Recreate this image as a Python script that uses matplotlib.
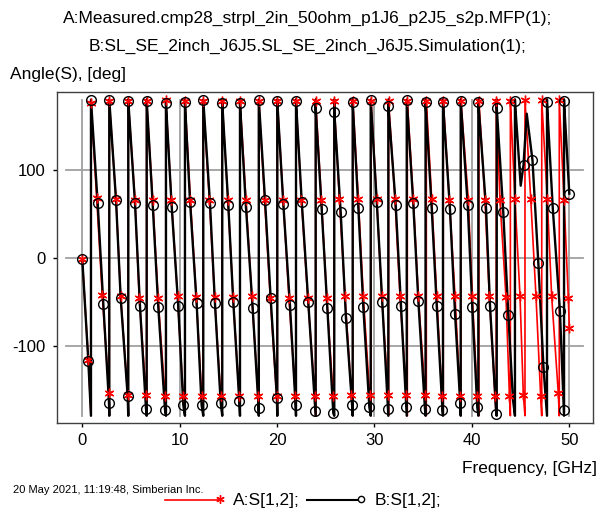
import numpy as np
import matplotlib.pyplot as plt

plt.rcParams['font.family'] = ['Liberation Sans', 'DejaVu Sans']
plt.rcParams['axes.unicode_minus'] = False

# ---- data ----
# measured (A, red): marker points, frequency in GHz, angle in deg
a_freq = [0.0, 0.62,
          0.89, 1.48, 2.05, 2.74, 2.77, 3.46, 3.94, 4.66, 4.72, 5.41, 5.85, 6.54,
          6.61, 7.23, 7.78, 8.49, 8.57, 9.15, 9.78, 10.35, 10.54, 11.10, 11.70, 12.25,
          12.40, 13.05, 13.58, 14.20, 14.35, 14.95, 15.48, 16.10, 16.19, 16.80, 17.40, 18.05,
          18.12, 18.72, 19.30, 19.95, 20.02, 20.62, 21.22, 21.88, 21.94, 22.50, 23.15, 23.88,
          23.96, 24.55, 25.10, 25.75, 25.85, 26.39, 26.97, 27.62, 27.77, 28.34, 28.85, 29.50,
          29.64, 30.23, 30.74, 31.40, 31.44, 32.10, 32.62, 33.28, 33.37, 33.98, 34.50, 35.20,
          35.32, 35.87, 36.39, 36.92, 37.06, 37.68, 38.27, 38.78, 38.87, 39.63, 40.04, 40.55,
          40.72, 41.34, 41.79, 42.37, 42.50, 42.88, 43.50, 43.85, 43.95, 44.42, 44.94, 45.28,
          45.45, 46.04, 46.58, 47.06, 47.17, 47.74, 48.19, 48.87, 48.97, 49.46, 49.90, 50.0]
a_deg = [-2, -116,
         176, 68, -43, -154, 178, 67, -44, -156, 178, 66, -46, -156,
         178, 66, -46, -158, 180, 66, -44, -158, 179, 66, -45, -157,
         179, 66, -45, -157, 179, 66, -45, -157, 179, 66, -44, -157,
         179, 66, -46, -157, 179, 66, -46, -157, 179, 66, -46, -157,
         179, 66, -46, -157, 179, 67, -44, -156, 179, 67, -44, -156,
         179, 67, -44, -156, 179, 67, -44, -156, 179, 67, -44, -156,
         179, 67, -44, -157, 179, 66, -44, -157, 179, 66, -44, -157,
         179, 66, -44, -157, 179, 66, -45, -157, 179, 67, -44, -156,
         180, 67, -44, -158, 180, 67, -44, -154, 180, 66, -46, -80]
a_wrap = [0.89, 2.77, 4.72, 6.61, 8.57, 10.54, 12.40, 14.35, 16.19, 18.12, 20.02, 21.94,
          23.96, 25.85, 27.77, 29.64, 31.44, 33.37, 35.32, 37.06, 38.87, 40.72, 42.50,
          43.95, 45.45, 47.17, 48.97]

# simulated (B, black): marker points
b_freq = [0.0, 0.62,
          0.89, 1.58, 2.16, 2.74, 2.77, 3.46, 3.94, 4.66, 4.72, 5.41, 5.92, 6.54,
          6.61, 7.23, 7.80, 8.49, 8.59, 9.18, 9.85, 10.37, 10.54, 11.06, 11.74, 12.25,
          12.42, 13.11, 13.62, 14.21, 14.37, 14.99, 15.50, 16.12, 16.19, 16.80, 17.49, 18.10,
          18.12, 18.76, 19.34, 19.98, 20.02, 20.64, 21.32, 21.90, 21.94, 22.53, 23.20, 23.92,
          23.96, 24.58, 25.15, 25.77, 25.87, 26.53, 27.07, 27.70, 27.76, 28.34, 28.85, 29.47,
          29.61, 30.23, 30.80, 31.38, 31.42, 32.18, 32.72, 33.25, 33.31, 33.98, 34.50, 35.18,
          35.24, 35.87, 36.39, 36.98, 37.03, 37.75, 38.27, 38.80, 38.85, 39.57, 40.04, 40.55,
          40.66, 41.45, 41.86, 42.50, 42.55, 43.22, 43.74, 44.42,
          45.30, 46.22, 46.82, 47.35, 47.71, 48.30, 49.04, 49.46, 49.46, 50.0]
b_deg = [-2, -118,
         180, 62, -53, -165, 180, 66, -46, -158, 179, 62, -55, -172,
         179, 60, -56, -173, 176, 58, -55, -168, 177, 64, -52, -168,
         180, 62, -52, -165, 176, 60, -50, -163, 176, 58, -57, -171,
         180, 66, -46, -160, 178, 61, -54, -168, 178, 64, -51, -175,
         170, 55, -57, -177, 166, 52, -69, -168, 177, 57, -56, -170,
         180, 64, -51, -172, 173, 60, -55, -170, 180, 62, -49, -172,
         177, 57, -55, -174, 177, 55, -64, -165, 179, 60, -56, -170,
         177, 57, -55, -178, 171, 52, -65, 178,
         106, 111, -6, -125, 177, 57, -61, -173, 178, 73]
b_wrap = [0.89, 2.77, 4.72, 6.61, 8.59, 10.54, 12.42, 14.37, 16.19, 18.12, 20.02, 21.94,
          23.96, 25.87, 27.76, 29.61, 31.42, 33.31, 35.24, 37.03, 38.85, 40.66, 42.55,
          44.42, 47.71, 49.46]
# extra bends of the simulated curve around 45 GHz (no marker there)
b_bend_freq = [44.22, 45.01, 45.63, 47.66]
b_bend_deg = [-162, 82, 164, -172]


def trace(freq, deg, wrap, bend_f=(), bend_d=()):
    pts = [(f, 2, d) for f, d in zip(freq, deg)]
    pts += [(f, 3, d) for f, d in zip(bend_f, bend_d)]
    for w in wrap:
        pts.append((w, 0, -180))
        pts.append((w, 1, 180))
    pts.sort()
    return [p[0] for p in pts], [p[2] for p in pts]


W, H = 607, 512
fig = plt.figure(figsize=(W / 100, H / 100), dpi=100)
L, R, T, B = 56.7, 592.7, 91.7, 423
ax = fig.add_axes([L / W, 1 - B / H, (R - L) / W, (B - T) / H])

x0, xs = 82.3, 9.74
y0, ys = 257.7, 0.878
ax.set_xlim((L - x0) / xs, (R - x0) / xs)
ax.set_ylim((y0 - B) / ys, (y0 - T) / ys)

gray = '#a0a0a0'
for v in [-100, 0, 100]:
    ax.plot([(66 - x0) / xs, (583 - x0) / xs], [v, v], color=gray, lw=1.3, zorder=1)
for v in range(0, 51, 10):
    ax.plot([v, v], [-180, 180], color=gray, lw=1.3, zorder=1)

fa, da = trace(a_freq, a_deg, a_wrap)
fb, db = trace(b_freq, b_deg, b_wrap, b_bend_freq, b_bend_deg)
ax.plot(fa, da, color='#ff0000', lw=1.2, zorder=2)
ax.plot(fb, db, color='black', lw=1.7, zorder=3)
ax.plot(a_freq, a_deg, ls='none', marker=(6, 2, 0), ms=7, mew=1, color='#ff0000', zorder=4)
ax.plot(b_freq, b_deg, ls='none', marker='o', ms=7, mew=1, mfc='none', mec='black', zorder=5)

ax.set_xticks(range(0, 51, 10))
ax.set_yticks([-100, 0, 100])
ax.tick_params(direction='out', length=3, width=1, labelsize=12, color='black')
ax.tick_params(axis='y', pad=5)
ax.tick_params(axis='x', pad=4)
for s in ax.spines.values():
    s.set_linewidth(1.0)
    s.set_color('#404040')

fig.text(0.507, 1 - 18 / H, 'A:Measured.cmp28_strpl_2in_50ohm_p1J6_p2J5_s2p.MFP(1);',
         ha='center', va='center', fontsize=12.5)
fig.text(0.507, 1 - 46 / H, 'B:SL_SE_2inch_J6J5.SL_SE_2inch_J6J5.Simulation(1);',
         ha='center', va='center', fontsize=12.5)
fig.text(10 / W, 1 - 75 / H, 'Angle(S), [deg]', ha='left', va='center', fontsize=12.5)
fig.text(597 / W, 1 - 469 / H, 'Frequency, [GHz]', ha='right', va='center', fontsize=12.5)
fig.text(13 / W, 1 - 490 / H, '20 May 2021, 11:19:48, Simberian Inc.', ha='left', va='center',
         fontsize=8, family=['Liberation Sans Narrow', 'Liberation Sans'])

# legend drawn in figure coordinates
fig.lines.append(plt.Line2D([165 / W, 220 / W], [1 - 500 / H] * 2, color='#ff0000', lw=1.2,
                            transform=fig.transFigure))
fig.lines.append(plt.Line2D([220 / W], [1 - 499 / H], ls='none', marker=(6, 2, 0), ms=6, mew=1,
                            color='#ff0000', transform=fig.transFigure))
fig.text(233 / W, 1 - 500 / H, 'A:S[1,2];', ha='left', va='center', fontsize=12.5)
fig.lines.append(plt.Line2D([307 / W, 357 / W], [1 - 500 / H] * 2, color='black', lw=1.5,
                            transform=fig.transFigure))
fig.lines.append(plt.Line2D([361 / W], [1 - 499 / H], ls='none', marker='o', ms=4.5, mew=1,
                            mfc='none', mec='black', transform=fig.transFigure))
fig.text(375 / W, 1 - 500 / H, 'B:S[1,2];', ha='left', va='center', fontsize=12.5)

fig.savefig('out.png', dpi=100)
